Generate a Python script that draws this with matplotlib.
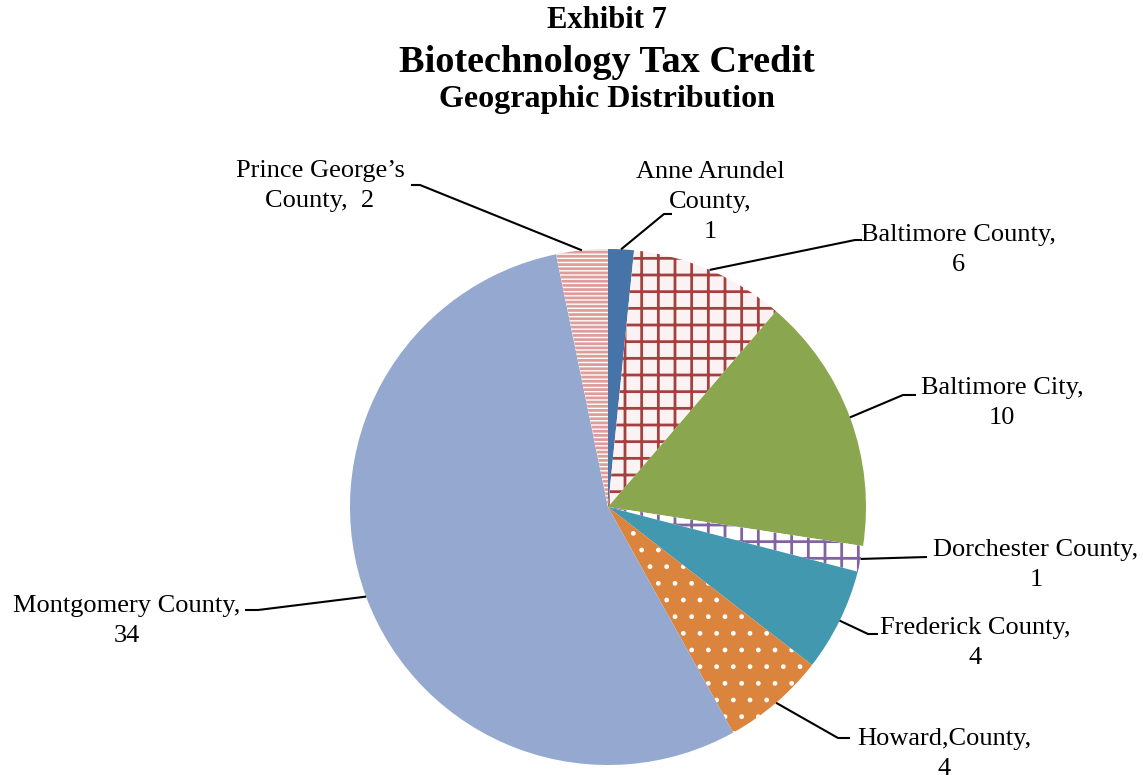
import numpy as np
import matplotlib
matplotlib.use("Agg")
import matplotlib.pyplot as plt

plt.rcParams['font.family'] = ['Liberation Serif', 'DejaVu Serif']
plt.rcParams['hatch.linewidth'] = 2.0

# Biotechnology tax credit recipients by county (clockwise from 12 o'clock)
counties = ["Anne Arundel\nCounty,", "Baltimore County,", "Baltimore City,",
            "Dorchester County,", "Frederick County,", "Howard,County,",
            "Montgomery County,", "Prince George\u2019s\nCounty,"]
counts = [1, 6, 10, 1, 4, 4, 34, 2]

face_colors = ["#4674A8", "#FBF3F3", "#8AA64E", "white", "#4198AF", "#DB843D", "#95A9D0", "white"]
hatch_colors = ["#4674A8", "#A5403F", "#8AA64E", "#8064A2", "#4198AF", "white", "#95A9D0", "#DE9C9A"]
hatches = [None, "+", None, "+", None, ".", None, "----"]

# label text centre, knee of the leader line, horizontal end of the leader
label_pos = [(710, 202), (958, 250), (1002, 403), (1036, 565),
             (975, 643), (944, 754), (127, 621), (320, 186)]
knees = [(664, 214), (855, 240), (903, 395), (927, 557),
         (868, 634), (838, 738), (258, 610), (420, 185)]
ends = [(672, 214), (862, 240), (916, 395), (927, 557),
        (878, 634), (850, 738), (245, 610), (411, 185)]

cx, cy, R = 608, 507, 258

fig = plt.figure(figsize=(11.43, 7.75), dpi=100)
ax = fig.add_axes([0, 0, 1, 1])

# y axis is flipped, so counterclock in data space runs clockwise on screen
wedges, _ = ax.pie(counts, center=(cx, cy), radius=R, startangle=-90,
                   counterclock=True, colors=face_colors, frame=True,
                   wedgeprops=dict(linewidth=0))
ax.set_xlim(0, 1143)
ax.set_ylim(775, 0)
ax.set_aspect('equal')
ax.axis('off')

for w, h, hc in zip(wedges, hatches, hatch_colors):
    if h:
        w.set_hatch(h)
        w.set_edgecolor(hc)
        w.set_linewidth(0)
        if h == "----" and hasattr(w, "set_hatch_linewidth"):
            w.set_hatch_linewidth(2.0)
        if h == "." and hasattr(w, "set_hatch_linewidth"):
            w.set_hatch_linewidth(1.0)

total = sum(counts)
start = 0
for i, (name, n) in enumerate(zip(counties, counts)):
    mid = (start + n / 2) / total * 2 * np.pi
    start += n
    px = cx + R * np.sin(mid)
    py = cy - R * np.cos(mid)
    kx, ky = knees[i]
    ex, ey = ends[i]
    ax.plot([px, kx, ex], [py, ky, ey], color="black", lw=1.5,
            solid_capstyle="butt", zorder=5)
    if "Prince" in name:
        txt = f"{name}  {n}"
    else:
        txt = f"{name}\n{n}"
    ax.text(label_pos[i][0], label_pos[i][1], txt, ha="center", va="center",
            fontsize=19, linespacing=1.5)

ax.text(607, 20, "Exhibit 7", ha="center", va="center", fontsize=22, fontweight="bold")
ax.text(607, 62, "Biotechnology Tax Credit", ha="center", va="center", fontsize=27.5, fontweight="bold")
ax.text(607, 100, "Geographic Distribution", ha="center", va="center", fontsize=23, fontweight="bold")

fig.savefig("out.png", dpi=100)
